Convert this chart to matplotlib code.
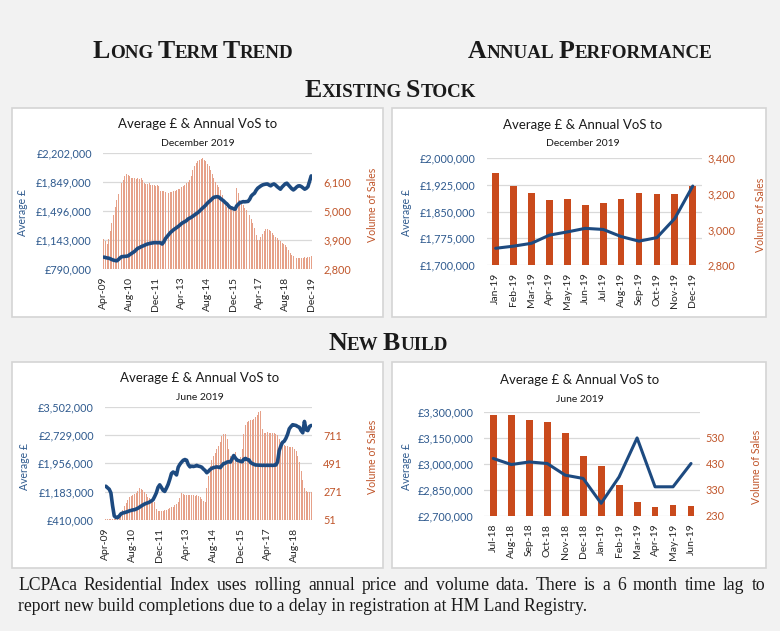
import numpy as np
import pandas as pd
import matplotlib
matplotlib.use("Agg")
import matplotlib.pyplot as plt
from matplotlib.patches import Rectangle
from matplotlib.ticker import FuncFormatter

# ---- data -------------------------------------------------------------
# existing stock, long term (monthly Apr-09 .. Dec-19), price in £k, volume of sales
EX_LT_PRICE = [
    935, 930, 925, 922, 915, 905, 898, 893, 890, 905,
    925, 940, 942, 945, 946, 950, 965, 978, 990, 1005,
    1025, 1043, 1050, 1062, 1070, 1078, 1088, 1095, 1100, 1105,
    1108, 1111, 1112, 1110, 1112, 1108, 1095, 1120, 1160, 1185,
    1210, 1233, 1250, 1268, 1282, 1295, 1310, 1328, 1345, 1358,
    1368, 1380, 1400, 1410, 1421, 1435, 1448, 1462, 1478, 1495,
    1515, 1535, 1551, 1572, 1595, 1612, 1630, 1650, 1666, 1670,
    1673, 1668, 1650, 1635, 1620, 1600, 1584, 1560, 1540, 1535,
    1525, 1520, 1560, 1580, 1600, 1605, 1612, 1610, 1612, 1615,
    1640, 1680, 1700, 1715, 1750, 1776, 1790, 1805, 1816, 1822,
    1826, 1828, 1815, 1805, 1820, 1828, 1815, 1795, 1780, 1764,
    1790, 1810, 1830, 1837, 1815, 1795, 1770, 1755, 1770, 1790,
    1804, 1805, 1795, 1780, 1764, 1775, 1795, 1860, 1926,
]
EX_LT_VOL = [
    3930, 3850, 3750, 3950, 4250, 4540, 4850, 5150, 5430, 5650,
    5870, 6060, 6200, 6330, 6400, 6390, 6330, 6260, 6250, 6270,
    6240, 6260, 6230, 6250, 6200, 6080, 6050, 6030, 6060, 6010,
    6000, 5980, 5960, 5990, 5950, 5780, 5760, 5770, 5720, 5690,
    5700, 5740, 5720, 5750, 5770, 5790, 5830, 5850, 5900, 5950,
    6000, 6060, 6120, 6200, 6350, 6550, 6720, 6820, 6900, 6960,
    7000, 7010, 6960, 6900, 6800, 6700, 6580, 6420, 6250, 6100,
    6000, 5920, 5800, 5600, 5400, 5250, 5150, 5110, 5080, 5100,
    5120, 5200, 5870, 5700, 5430, 5350, 5250, 5120, 5045, 4950,
    4850, 4700, 4540, 4350, 4100, 3900, 3920, 4020, 4120, 4230,
    4310, 4330, 4290, 4250, 4180, 4100, 4020, 3960, 3900, 3850,
    3800, 3750, 3700, 3620, 3520, 3400, 3350, 3290, 3245, 3220,
    3200, 3210, 3220, 3230, 3240, 3220, 3250, 3260, 3280,
]

# new build, long term (monthly Apr-09 .. Jun-19)
NB_LT_PRICE = [
    1332, 1290, 1250, 1150, 800, 520, 480, 475, 520, 580,
    600, 610, 625, 640, 660, 670, 685, 690, 710, 730,
    760, 790, 820, 845, 865, 880, 900, 930, 960, 1050,
    1150, 1300, 1370, 1300, 1220, 1190, 1280, 1380, 1520, 1680,
    1720, 1690, 1640, 1850, 1930, 1990, 2040, 2060, 2040, 1920,
    1860, 1880, 1870, 1880, 1900, 1880, 1870, 1850, 1800, 1760,
    1700, 1740, 1790, 1820, 1840, 1850, 1860, 1850, 1840, 1900,
    1950, 1960, 1990, 2000, 1990, 2080, 2170, 2100, 2040, 2030,
    2010, 2000, 2070, 2090, 2060, 2050, 1980, 1950, 1930, 1910,
    1910, 1905, 1905, 1900, 1905, 1900, 1905, 1900, 1905, 1900,
    1905, 1910, 1990, 2300, 2430, 2530, 2560, 2640, 2750, 2900,
    2960, 3010, 3000, 2990, 2960, 2940, 2850, 2790, 3100, 2870,
    2850, 2960, 2990,
]
NB_LT_VOL = [
    58, 57, 56, 56, 57, 58, 62, 70, 85, 105,
    130, 160, 185, 210, 228, 238, 245, 250, 262, 275,
    300, 295, 285, 268, 250, 232, 220, 208, 200, 190,
    140, 120, 118, 120, 122, 125, 128, 135, 145, 150,
    155, 165, 175, 190, 225, 260, 250, 243, 245, 242,
    245, 243, 244, 240, 242, 238, 230, 215, 195, 190,
    300, 390, 470, 515, 545, 575, 600, 625, 660, 700,
    716, 720, 680, 600, 545, 530, 560, 580, 530, 510,
    540, 600, 720, 790, 815, 820, 830, 825, 835, 850,
    870, 890, 900, 760, 730, 728, 732, 725, 730, 728,
    725, 722, 715, 680, 655, 640, 630, 625, 622, 620,
    620, 615, 605, 590, 545, 500, 430, 360, 300, 275,
    268, 268, 270,
]

# annual performance
EX_AN_MONTHS = ["Jan-19", "Feb-19", "Mar-19", "Apr-19", "May-19", "Jun-19",
                "Jul-19", "Aug-19", "Sep-19", "Oct-19", "Nov-19", "Dec-19"]
EX_AN_PRICE = [1747, 1753, 1761, 1784, 1793, 1803, 1800, 1780, 1767, 1777, 1831, 1922]
EX_AN_VOL = [3319, 3244, 3207, 3166, 3169, 3139, 3147, 3169, 3203, 3199, 3197, 3246]

NB_AN_MONTHS = ["Jul-18", "Aug-18", "Sep-18", "Oct-18", "Nov-18", "Dec-18",
                "Jan-19", "Feb-19", "Mar-19", "Apr-19", "May-19", "Jun-19"]
NB_AN_PRICE = [3031, 2996, 3011, 3002, 2935, 2916, 2773, 2925, 3149, 2868, 2868, 3002]
NB_AN_VOL = [619, 616, 597, 592, 550, 462, 421, 347, 283, 263, 271, 268]

FOOTER_1 = ("LCPAca Residential Index uses rolling annual price and volume data. "
            "There is a 6 month time lag to")
FOOTER_2 = "report new build completions due to a delay in registration at HM Land Registry."

# ---- style ------------------------------------------------------------
W, H = 780, 631
BG = "#f2f2f2"
EDGE = "#d4d4d4"
GRID = "#d9d9d9"
BLUE = "#1d4a80"
BLUE_TXT = "#2f5a8e"
ORANGE_TXT = "#c0552a"
BAR_LT = "#e6a189"
BAR_AN = "#c94a1c"
INK = "#1a1a1a"
SANS = "Lato"
SERIF = "Liberation Serif"
TICK = 7.8


def fx(x):
    return x / W


def fy(y):
    return 1 - y / H


fig = plt.figure(figsize=(W / 100, H / 100), dpi=100)
fig.patch.set_facecolor(BG)
renderer = fig.canvas.get_renderer()


def box(x0, y0, x1, y1):
    fig.add_artist(Rectangle((fx(x0), fy(y1)), fx(x1) - fx(x0), fy(y0) - fy(y1),
                             transform=fig.transFigure, facecolor="white",
                             edgecolor=EDGE, lw=1.2, zorder=-1))


def panel(pos, price, vol, p_ticks, v_lim, v_ticks, labels, tick_idx,
          bar_w, bar_c, lw, pad_l, pad_r):
    left, top, right, bottom = pos
    rect = [fx(left), fy(bottom), fx(right) - fx(left), fy(top) - fy(bottom)]
    x = np.arange(len(price))

    ax = fig.add_axes(rect)
    ax.set_zorder(1)
    ax.patch.set_visible(False)
    ax.set_xlim(-0.5, len(price) - 0.5)
    ax.set_ylim(p_ticks[0], p_ticks[-1])
    ax.set_yticks(p_ticks)
    ax.yaxis.set_major_formatter(FuncFormatter(lambda v, _: f"£{v:,.0f}"))
    ax.grid(axis="y", color=GRID, lw=0.9)
    ax.set_xticks(tick_idx)
    ax.set_xticklabels(labels, rotation=90)
    ax.tick_params(axis="x", length=0, pad=5.5, labelsize=7.5, labelcolor="#262626")
    ax.tick_params(axis="y", length=0, pad=pad_l, labelsize=TICK, labelcolor=BLUE_TXT)
    for t in ax.get_xticklabels() + ax.get_yticklabels():
        t.set_fontfamily(SANS)

    ax2 = ax.twinx()
    ax2.set_zorder(2)
    ax2.patch.set_visible(False)
    ax2.bar(x, vol, width=bar_w, color=bar_c, lw=0)
    ax2.set_ylim(*v_lim)
    ax2.set_yticks(v_ticks)
    ax2.yaxis.set_major_formatter(FuncFormatter(lambda v, _: f"{v:,.0f}"))
    ax2.tick_params(axis="y", length=0, pad=pad_r, labelsize=TICK, labelcolor=ORANGE_TXT)
    for t in ax2.get_yticklabels():
        t.set_fontfamily(SANS)

    ax3 = ax.twinx()
    ax3.set_zorder(3)
    ax3.patch.set_visible(False)
    ax3.plot(x, price, color=BLUE, lw=lw, solid_capstyle="round", solid_joinstyle="round")
    ax3.set_ylim(p_ticks[0], p_ticks[-1])
    ax3.set_yticks([])

    for a in (ax, ax2, ax3):
        for s in a.spines.values():
            s.set_visible(False)
    return ax


def titles(cx, y_title, y_sub, sub):
    fig.text(fx(cx), fy(y_title), "Average £ & Annual VoS to", ha="center", va="center",
             fontsize=9.5, color=INK, family=SANS)
    fig.text(fx(cx), fy(y_sub), sub, ha="center", va="center",
             fontsize=7.5, color=INK, family=SANS)


def side_labels(xl, yl, xr, yr):
    fig.text(fx(xl), fy(yl), "Average £", rotation=90, ha="center", va="center",
             fontsize=7.6, color=BLUE_TXT, family=SANS)
    fig.text(fx(xr), fy(yr), "Volume of Sales", rotation=90, ha="center", va="center",
             fontsize=7.6, color=ORANGE_TXT, family=SANS)


def small_caps(text, cx, base_y, big=18.6, small=13.7):
    runs = []
    for word in text.split():
        runs.append((word[0], big, False))
        runs.append((word[1:].upper(), small, True))
    arts, widths = [], []
    for s, size, _ in runs:
        t = fig.text(0, fy(base_y), s, fontsize=size, family=SERIF, fontweight="bold",
                     ha="left", va="baseline", color=INK)
        arts.append(t)
        widths.append(t.get_window_extent(renderer).width)
    gap = small * 0.3
    total = sum(widths) + gap * (len(text.split()) - 1)
    xpos = cx - total / 2
    for i, (t, w) in enumerate(zip(arts, widths)):
        t.set_x(fx(xpos))
        xpos += w
        if runs[i][2]:
            xpos += gap


def justified(text, x0, x1, base_y, size):
    words = text.split()
    arts, widths = [], []
    for wd in words:
        t = fig.text(0, fy(base_y), wd, fontsize=size, family=SERIF, ha="left",
                     va="baseline", color=INK)
        arts.append(t)
        widths.append(t.get_window_extent(renderer).width)
    gap = (x1 - x0 - sum(widths)) / (len(words) - 1)
    xpos = x0
    for t, w in zip(arts, widths):
        t.set_x(fx(xpos))
        xpos += w + gap


# ---- layout -----------------------------------------------------------
box(12, 108, 383, 317)
box(392, 108, 766, 317)
box(12, 362, 383, 568)
box(392, 362, 766, 568)

small_caps("Long Term Trend", 193, 58)
small_caps("Annual Performance", 590, 58)
small_caps("Existing Stock", 390, 97)
small_caps("New Build", 388, 350)

# long-term month labels
ex_months = pd.date_range("2009-04-01", periods=len(EX_LT_VOL), freq="MS").strftime("%b-%y")
nb_months = pd.date_range("2009-04-01", periods=len(NB_LT_VOL), freq="MS").strftime("%b-%y")
ex_idx = np.arange(0, len(EX_LT_VOL), 16)
nb_idx = np.arange(0, len(NB_LT_VOL), 16)

panel((103, 153.3, 312, 269), [p * 1000 for p in EX_LT_PRICE], EX_LT_VOL,
      [790000, 1143000, 1496000, 1849000, 2202000], (2800, 7200), [2800, 3900, 5000, 6100],
      [ex_months[i] for i in ex_idx], ex_idx, 0.6, BAR_LT, 2.6, 8, 8)
titles(198, 124, 144, "December 2019")
side_labels(23, 213, 373, 205)

panel((486.7, 158.3, 701.7, 265), [p * 1000 for p in EX_AN_PRICE], EX_AN_VOL,
      [1700000, 1775000, 1850000, 1925000, 2000000], (2800, 3400), [2800, 3000, 3200, 3400],
      EX_AN_MONTHS, np.arange(len(EX_AN_MONTHS)), 0.38, BAR_AN, 2.2, 8, 4)
titles(583, 125, 143, "December 2019")
side_labels(407, 212, 760, 215)

panel((105, 406.7, 312, 520), [p * 1000 for p in NB_LT_PRICE], NB_LT_VOL,
      [410000, 1183000, 1956000, 2729000, 3502000], (51, 931), [51, 271, 491, 711],
      [nb_months[i] for i in nb_idx], nb_idx, 0.6, BAR_LT, 2.6, 8, 8)
titles(200, 378, 398, "June 2019")
side_labels(25, 467, 372, 457)

panel((484.3, 411.7, 700, 516), [p * 1000 for p in NB_AN_PRICE], NB_AN_VOL,
      [2700000, 2850000, 3000000, 3150000, 3300000], (230, 630), [230, 330, 430, 530],
      NB_AN_MONTHS, np.arange(len(NB_AN_MONTHS)), 0.38, BAR_AN, 2.2, 8, 4)
titles(580, 380, 399, "June 2019")
side_labels(406, 467, 757, 467)

justified(FOOTER_1, 18, 765, 590, 12.7)
fig.text(fx(18), fy(611), FOOTER_2, fontsize=12.7, family=SERIF, ha="left",
         va="baseline", color=INK)

fig.savefig("out.png", dpi=100, facecolor=BG)
